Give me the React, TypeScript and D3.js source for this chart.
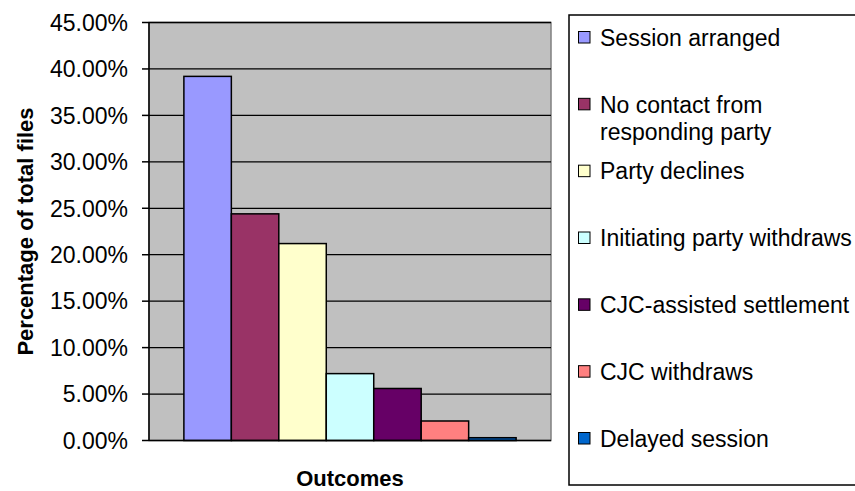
import React from "react";
import * as d3 from "d3";

const categories = [
  "Session arranged",
  "No contact from responding party",
  "Party declines",
  "Initiating party withdraws",
  "CJC-assisted settlement",
  "CJC withdraws",
  "Delayed session",
];
const legendLines = [
  ["Session arranged"],
  ["No contact from", "responding party"],
  ["Party declines"],
  ["Initiating party withdraws"],
  ["CJC-assisted settlement"],
  ["CJC withdraws"],
  ["Delayed session"],
];
const values = [0.392, 0.244, 0.212, 0.072, 0.056, 0.021, 0.003];
const colors = ["#9999FF", "#993366", "#FFFFCC", "#CCFFFF", "#660066", "#FF8080", "#0066CC"];
const yTicks = [0, 0.05, 0.1, 0.15, 0.2, 0.25, 0.3, 0.35, 0.4, 0.45];
const yTitle = "Percentage of total files";
const xTitle = "Outcomes";

const W = 855;
const H = 491;
const plot = { left: 149, right: 551, top: 22.5, bottom: 440.5 };
const font = "'Liberation Sans', Arial, sans-serif";
const fs = 23;
const titleFs = 22;

export default function App() {
  const y = d3.scaleLinear().domain([0, 0.45]).range([plot.bottom, plot.top]);
  const plotW = plot.right - plot.left;
  const gap = 0.21;
  const groupW = plotW / (1 + gap);
  const x0 = plot.left + (plotW - groupW) / 2;
  const x = d3.scaleBand<number>().domain(d3.range(values.length)).range([x0, x0 + groupW]).padding(0);
  const fmt = d3.format(".2%");

  const legend = { left: 569, top: 15, bottom: 485 };
  const ly = d3.scaleLinear().domain([0, 6]).range([37.5, 438.5]);

  return (
    <svg width={W} height={H} style={{ position: "fixed", left: 0, top: 0, background: "#fff" }} fontFamily={font}>
      <rect x={0} y={0} width={W} height={H} fill="#fff" />
      {/* plot area */}
      <rect x={plot.left} y={plot.top} width={plotW} height={plot.bottom - plot.top} fill="#C0C0C0" stroke="#808080" strokeWidth={1.5} />
      {yTicks.slice(1).map((t) => (
        <line key={t} x1={plot.left} x2={plot.right} y1={y(t)} y2={y(t)} stroke="#000" strokeWidth={1.3} />
      ))}
      {values.map((v, i) => (
        <rect key={i} x={x(i)} y={y(v)} width={x.bandwidth()} height={y(0) - y(v)} fill={colors[i]} stroke="#000" strokeWidth={1.5} />
      ))}
      {/* axes */}
      <line x1={plot.left} x2={plot.left} y1={plot.top} y2={plot.bottom} stroke="#000" strokeWidth={1.5} />
      <line x1={plot.left} x2={plot.right} y1={plot.bottom} y2={plot.bottom} stroke="#000" strokeWidth={1.5} />
      {yTicks.map((t) => (
        <g key={t}>
          <line x1={plot.left - 7} x2={plot.left} y1={y(t)} y2={y(t)} stroke="#000" strokeWidth={1.5} />
          <text x={128} y={y(t)} dy="0.36em" textAnchor="end" fontSize={fs} fill="#000">
            {fmt(t)}
          </text>
        </g>
      ))}
      <text transform={`translate(33, ${(plot.top + plot.bottom) / 2}) rotate(-90)`} textAnchor="middle" fontSize={titleFs} fontWeight="bold">
        {yTitle}
      </text>
      <text x={(plot.left + plot.right) / 2} y={486} textAnchor="middle" fontSize={titleFs} fontWeight="bold">
        {xTitle}
      </text>
      {/* legend */}
      <rect x={legend.left} y={legend.top} width={W - legend.left + 10} height={legend.bottom - legend.top} fill="#fff" stroke="#000" strokeWidth={1.5} />
      {categories.map((c, i) => (
        <g key={c}>
          <rect x={578.5} y={ly(i) - 6} width={11.5} height={11.5} fill={colors[i]} stroke="#000" strokeWidth={1} />
          {legendLines[i].map((ln, j) => (
            <text key={j} x={600} y={ly(i) + j * 27} dy="0.36em" fontSize={fs} fill="#000">
              {ln}
            </text>
          ))}
        </g>
      ))}
    </svg>
  );
}
